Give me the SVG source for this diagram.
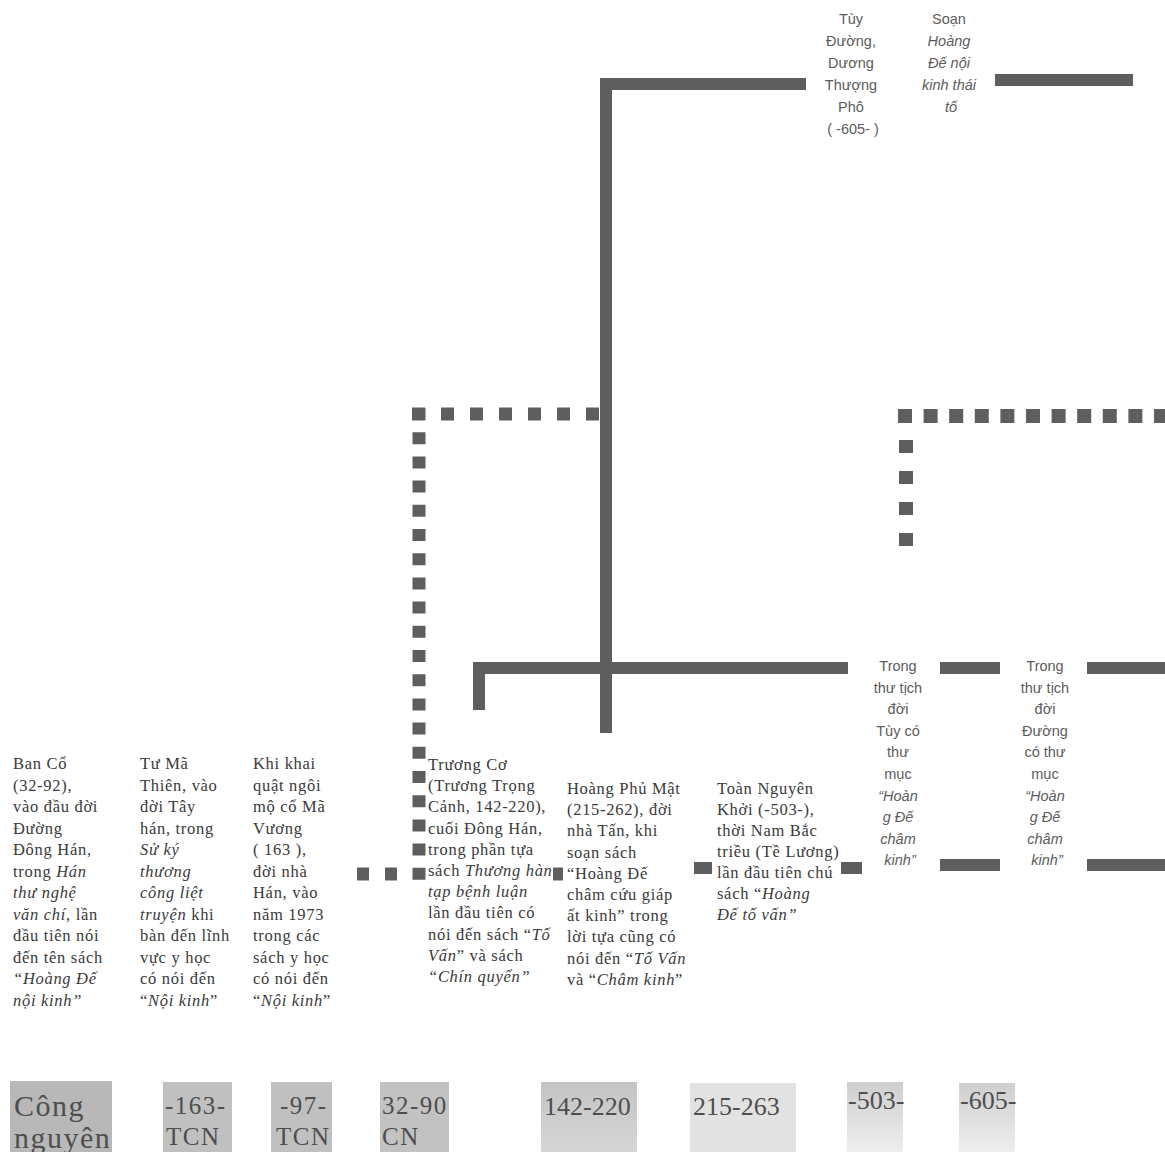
<svg xmlns="http://www.w3.org/2000/svg" width="1165" height="1152" viewBox="0 0 1165 1152">
<style>
.bg{fill:#ffffff}
.sol{fill:none;stroke:#5e5e5e;stroke-width:12;stroke-linejoin:miter}
.dotL{fill:none;stroke:#5e5e5e;stroke-width:13}
.dotR{fill:none;stroke:#5e5e5e;stroke-width:14}
.s{font-family:"Liberation Serif","Times New Roman",serif;font-size:16.5px;letter-spacing:0.7px;fill:#3a3a3a}
.c{font-family:"Liberation Sans",Arial,sans-serif;font-size:14.5px;fill:#5c5c5c;text-anchor:middle}
.i{font-style:italic}
.lbl{font-family:"Liberation Serif","Times New Roman",serif;fill:#4e4e4e}
.big{font-size:30px;letter-spacing:1.5px}
.mid{font-size:25px;letter-spacing:1.5px}
.num{font-size:26px}
</style>
<defs>
<linearGradient id="fade" x1="0" y1="0" x2="0" y2="1">
<stop offset="0" stop-color="#cfcfcf"/>
<stop offset="1" stop-color="#eeeeee"/>
</linearGradient>
<linearGradient id="fade2" x1="0" y1="0" x2="0" y2="1">
<stop offset="0" stop-color="#c4c4c4"/>
<stop offset="1" stop-color="#d6d6d6"/>
</linearGradient>
</defs>
<rect class="bg" x="0" y="0" width="1165" height="1152"/>

<g id="connectors">
<path class="sol" d="M606 733 V84 H806"/>
<path class="sol" d="M995 80 H1133"/>
<path class="sol" d="M479 710 V668 H848"/>
<path class="sol" d="M940 668 H1000"/>
<path class="sol" d="M1087 668 H1165"/>
<path class="sol" d="M940 865 H1000"/>
<path class="sol" d="M1087 865 H1165"/>
<path class="sol" d="M694 868 H712"/>
<path class="sol" d="M841 868 H862"/>
<path class="dotL" d="M412 414 H599" stroke-dasharray="13 16"/>
<path class="dotL" d="M419 408 V880" stroke-dasharray="12 12.2"/>
<path class="dotL" d="M357 874 H397" stroke-dasharray="12 16"/>
<path class="dotL" d="M553 874 H563"/>
<path class="dotR" d="M898 416 H1165" stroke-dasharray="14 11.6"/>
<path class="dotR" d="M906 440 V547" stroke-dasharray="13 18"/>
</g>

<g id="node-bancố">
<text class="s">
<tspan x="13" y="769">Ban Cổ</tspan>
<tspan x="13" y="790.5">(32-92),</tspan>
<tspan x="13" y="812">vào đầu đời</tspan>
<tspan x="13" y="833.5">Đường</tspan>
<tspan x="13" y="855">Đông Hán,</tspan>
<tspan x="13" y="876.5">trong <tspan class="i">Hán</tspan></tspan>
<tspan x="13" y="898" class="i">thư nghệ</tspan>
<tspan x="13" y="919.5"><tspan class="i">văn chí</tspan>, lần</tspan>
<tspan x="13" y="941">đầu tiên nói</tspan>
<tspan x="13" y="962.5">đến tên sách</tspan>
<tspan x="13" y="984" class="i">“Hoàng Đế</tspan>
<tspan x="13" y="1005.5" class="i">nội kinh”</tspan>
</text>
</g>

<g id="node-tuma">
<text class="s">
<tspan x="140" y="769">Tư Mã</tspan>
<tspan x="140" y="790.5">Thiên, vào</tspan>
<tspan x="140" y="812">đời Tây</tspan>
<tspan x="140" y="833.5">hán, trong</tspan>
<tspan x="140" y="855" class="i">Sử ký</tspan>
<tspan x="140" y="876.5" class="i">thương</tspan>
<tspan x="140" y="898" class="i">công liệt</tspan>
<tspan x="140" y="919.5"><tspan class="i">truyện</tspan> khi</tspan>
<tspan x="140" y="941">bàn đến lĩnh</tspan>
<tspan x="140" y="962.5">vực y học</tspan>
<tspan x="140" y="984">có nói đến</tspan>
<tspan x="140" y="1005.5">“<tspan class="i">Nội kinh</tspan>”</tspan>
</text>
</g>

<g id="node-khikhai">
<text class="s">
<tspan x="253" y="769">Khi khai</tspan>
<tspan x="253" y="790.5">quật ngôi</tspan>
<tspan x="253" y="812">mộ cổ Mã</tspan>
<tspan x="253" y="833.5">Vương</tspan>
<tspan x="253" y="855">( 163 ),</tspan>
<tspan x="253" y="876.5">đời nhà</tspan>
<tspan x="253" y="898">Hán, vào</tspan>
<tspan x="253" y="919.5">năm 1973</tspan>
<tspan x="253" y="941">trong các</tspan>
<tspan x="253" y="962.5">sách y học</tspan>
<tspan x="253" y="984">có nói đến</tspan>
<tspan x="253" y="1005.5">“<tspan class="i">Nội kinh</tspan>”</tspan>
</text>
</g>

<g id="node-truongco">
<text class="s">
<tspan x="428" y="770">Trương Cơ</tspan>
<tspan x="428" y="791.2">(Trương Trọng</tspan>
<tspan x="428" y="812.4">Cảnh, 142-220),</tspan>
<tspan x="428" y="833.6">cuối Đông Hán,</tspan>
<tspan x="428" y="854.8">trong phần tựa</tspan>
<tspan x="428" y="876">sách <tspan class="i">Thương hàn</tspan></tspan>
<tspan x="428" y="897.2" class="i">tạp bệnh luận</tspan>
<tspan x="428" y="918.4">lần đầu tiên có</tspan>
<tspan x="428" y="939.6">nói đến sách “<tspan class="i">Tố</tspan></tspan>
<tspan x="428" y="960.8"><tspan class="i">Vấn</tspan>” và sách</tspan>
<tspan x="428" y="982" class="i">“Chín quyển”</tspan>
</text>
</g>

<g id="node-hoangphumat">
<text class="s">
<tspan x="567" y="794">Hoàng Phủ Mật</tspan>
<tspan x="567" y="815.2">(215-262), đời</tspan>
<tspan x="567" y="836.4">nhà Tấn, khi</tspan>
<tspan x="567" y="857.6">soạn sách</tspan>
<tspan x="567" y="878.8">“Hoàng Đế</tspan>
<tspan x="567" y="900">châm cứu giáp</tspan>
<tspan x="567" y="921.2">ất kinh” trong</tspan>
<tspan x="567" y="942.4">lời tựa cũng có</tspan>
<tspan x="567" y="963.6">nói đến “<tspan class="i">Tố Vấn</tspan></tspan>
<tspan x="567" y="984.8">và “<tspan class="i">Châm kinh</tspan>”</tspan>
</text>
</g>

<g id="node-toannguyenkhoi">
<text class="s">
<tspan x="717" y="794">Toàn Nguyên</tspan>
<tspan x="717" y="815">Khởi (-503-),</tspan>
<tspan x="717" y="836">thời Nam Bắc</tspan>
<tspan x="717" y="857">triều (Tề Lương)</tspan>
<tspan x="717" y="878">lần đầu tiên chú</tspan>
<tspan x="717" y="899">sách “<tspan class="i">Hoàng</tspan></tspan>
<tspan x="717" y="920" class="i">Đế tố vấn”</tspan>
</text>
</g>

<g id="node-tuy">
<text class="c">
<tspan x="900" y="671">Trong</tspan>
<tspan x="900" y="692.6">thư tịch</tspan>
<tspan x="900" y="714.2">đời</tspan>
<tspan x="900" y="735.8">Tùy có</tspan>
<tspan x="900" y="757.4">thư</tspan>
<tspan x="900" y="779">mục</tspan>
<tspan x="900" y="800.6" class="i">“Hoàn</tspan>
<tspan x="900" y="822.2" class="i">g Đế</tspan>
<tspan x="900" y="843.8" class="i">châm</tspan>
<tspan x="900" y="865.4" class="i">kinh”</tspan>
</text>
</g>

<g id="node-duong">
<text class="c">
<tspan x="1047" y="671">Trong</tspan>
<tspan x="1047" y="692.6">thư tịch</tspan>
<tspan x="1047" y="714.2">đời</tspan>
<tspan x="1047" y="735.8">Đường</tspan>
<tspan x="1047" y="757.4">có thư</tspan>
<tspan x="1047" y="779">mục</tspan>
<tspan x="1047" y="800.6" class="i">“Hoàn</tspan>
<tspan x="1047" y="822.2" class="i">g Đế</tspan>
<tspan x="1047" y="843.8" class="i">châm</tspan>
<tspan x="1047" y="865.4" class="i">kinh”</tspan>
</text>
</g>

<g id="node-duongthuong">
<text class="c">
<tspan x="853" y="24">Tùy</tspan>
<tspan x="853" y="46">Đường,</tspan>
<tspan x="853" y="68">Dương</tspan>
<tspan x="853" y="90">Thượng</tspan>
<tspan x="853" y="112">Phô</tspan>
<tspan x="853" y="134">( -605- )</tspan>
</text>
</g>

<g id="node-thaito">
<text class="c">
<tspan x="951" y="24">Soạn</tspan>
<tspan x="951" y="46" class="i">Hoàng</tspan>
<tspan x="951" y="68" class="i">Đế nội</tspan>
<tspan x="951" y="90" class="i">kinh thái</tspan>
<tspan x="951" y="112" class="i">tố</tspan>
</text>
</g>

<g id="label-congnguyen">
<rect x="10" y="1081" width="102" height="71" fill="#b8b8b8"/>
<text class="lbl big"><tspan x="14" y="1116">Công</tspan><tspan x="14" y="1148">nguyên</tspan></text>
</g>
<g id="label-163">
<rect x="163" y="1082" width="69" height="70" fill="#c0c0c0"/>
<text class="lbl mid"><tspan x="165" y="1114">-163-</tspan><tspan x="166" y="1145">TCN</tspan></text>
</g>
<g id="label-97">
<rect x="271" y="1082" width="61" height="70" fill="#c0c0c0"/>
<text class="lbl mid"><tspan x="280" y="1114">-97-</tspan><tspan x="276" y="1145">TCN</tspan></text>
</g>
<g id="label-32">
<rect x="380" y="1082" width="69" height="70" fill="#c2c2c2"/>
<text class="lbl mid"><tspan x="382" y="1114">32-90</tspan><tspan x="382" y="1145">CN</tspan></text>
</g>
<g id="label-142">
<rect x="541" y="1082" width="96" height="70" fill="url(#fade2)"/>
<text class="lbl num"><tspan x="544" y="1115">142-220</tspan></text>
</g>
<g id="label-215">
<rect x="690" y="1083" width="106" height="69" fill="#e2e2e2"/>
<text class="lbl num"><tspan x="693" y="1115">215-263</tspan></text>
</g>
<g id="label-503">
<rect x="847" y="1082" width="56" height="70" fill="url(#fade)"/>
<text class="lbl num"><tspan x="848" y="1109">-503-</tspan></text>
</g>
<g id="label-605">
<rect x="959" y="1083" width="56" height="69" fill="url(#fade)"/>
<text class="lbl num"><tspan x="960" y="1109">-605-</tspan></text>
</g>
</svg>
